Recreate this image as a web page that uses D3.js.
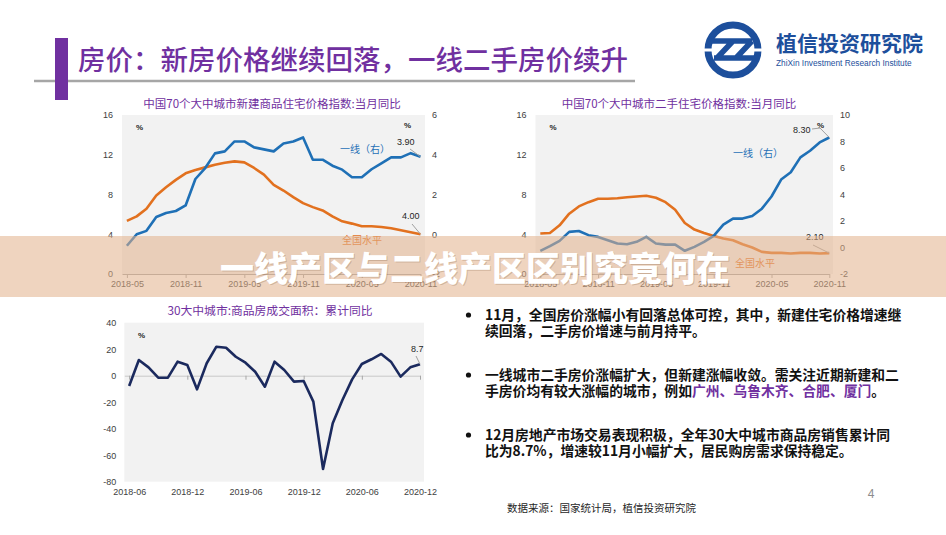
<!DOCTYPE html>
<html><head><meta charset="utf-8">
<script src="https://cdn.jsdelivr.net/npm/d3@7"></script>
<style>
body{margin:0;background:#fff;}
svg{display:block;}
</style></head><body>
<svg id="c" width="946" height="535"></svg>
<script>
// ---------- data ----------
const months1 = ["2018-05","2018-06","2018-07","2018-08","2018-09","2018-10","2018-11","2018-12",
  "2019-01","2019-02","2019-03","2019-04","2019-05","2019-06","2019-07","2019-08","2019-09","2019-10","2019-11","2019-12",
  "2020-01","2020-02","2020-03","2020-04","2020-05","2020-06","2020-07","2020-08","2020-09","2020-10","2020-11"];
const months3 = ["2018-06","2018-07","2018-08","2018-09","2018-10","2018-11","2018-12",
  "2019-01","2019-02","2019-03","2019-04","2019-05","2019-06","2019-07","2019-08","2019-09","2019-10","2019-11","2019-12",
  "2020-01","2020-02","2020-03","2020-04","2020-05","2020-06","2020-07","2020-08","2020-09","2020-10","2020-11","2020-12"];
const tickMonths1 = ["2018-05","2018-11","2019-05","2019-11","2020-05","2020-11"];
const tickMonths3 = ["2018-06","2018-12","2019-06","2019-12","2020-06","2020-12"];

// chart 1: new homes, YoY (%)
const newTier1 = [-0.58,0.0,0.17,0.87,1.07,1.17,1.45,2.78,3.33,4.07,4.17,4.67,4.67,4.37,4.27,4.17,4.57,4.67,4.87,3.75,3.75,3.45,3.25,2.87,2.87,3.27,3.57,3.87,3.87,4.08,3.90];
const newNational = [5.35,5.8,6.57,7.9,8.73,9.47,10.13,10.47,10.73,11.0,11.2,11.33,11.23,10.67,10.0,8.97,8.4,7.73,7.13,6.73,6.4,5.8,5.3,5.07,4.8,4.8,4.73,4.6,4.4,4.2,4.00];
// chart 2: second-hand homes, YoY (%)
const usedTier1 = [-0.25,0.1,0.5,1.18,1.25,0.93,0.8,0.55,0.3,0.25,0.43,0.8,0.3,0.22,0.22,-0.25,0.05,0.43,0.88,1.73,2.18,2.18,2.38,2.93,3.85,5.13,5.68,6.8,7.3,7.93,8.30];
const usedNational = [4.07,4.13,4.9,6.07,6.8,7.23,7.57,7.57,7.63,7.73,7.8,7.87,7.67,7.23,6.47,5.13,4.47,4.13,3.83,3.57,3.4,3.0,2.67,2.23,2.13,2.13,2.07,2.13,2.13,2.07,2.10];
// chart 3: 30 cities transaction area, cumulative YoY (%)
const salesArea = [-7.8,11.8,6.3,-1.5,-1.5,10.6,8.1,-10.3,9.4,21.9,21.1,14.3,9.8,3.0,-8.3,10.6,4.3,-4.5,-4.0,-19.6,-70.4,-35.9,-18.3,-2.8,8.8,12.4,16.4,10.6,-0.7,6.3,8.7];

const leftTicks12 = [0,4,8,12,16];
const rightTicks1 = [-2,0,2,4,6];
const rightTicks2 = [-2,0,2,4,6,8,10];
const leftTicks3 = [-80,-60,-40,-20,0,20,40];

// ---------- styles ----------
const CJK = "'Noto Sans CJK SC','Noto Sans',sans-serif";
const LAT = "'Liberation Sans',Arial,sans-serif";
const PURPLE = "#7030a0";
const BLUE = "#1f70b6";
const ORANGE = "#e2711f";
const NAVY = "#1b2a5e";
const LOGO = "#1d4f9c";
const fmt = d => String(d);

const svg = d3.select("#c");
svg.append("rect").attr("width",946).attr("height",535).attr("fill","#fff");

// ---------- header ----------
svg.append("line").attr("x1",34).attr("x2",635).attr("y1",81).attr("y2",81)
  .attr("stroke","#a6a6a6").attr("stroke-width",2.5);
svg.append("rect").attr("x",55).attr("y",38).attr("width",13).attr("height",62).attr("fill",PURPLE);
svg.append("text").attr("x",78).attr("y",70).attr("font-family",CJK).attr("font-weight",500)
  .attr("font-size",27.5).attr("fill",PURPLE).text("房价：新房价格继续回落，一线二手房价续升");

// logo
const lg = svg.append("g");
lg.append("circle").attr("cx",733).attr("cy",50).attr("r",25).attr("fill","none").attr("stroke",LOGO).attr("stroke-width",7);
lg.append("path").attr("d","M711,41 H752 M733,41 L717,58 M752,41 L736,58 M714,58 H757")
  .attr("stroke",LOGO).attr("stroke-width",5.5).attr("fill","none").attr("stroke-linecap","butt");
lg.append("path").attr("d","M703,50 H712 M754,50 H764").attr("stroke","#fff").attr("stroke-width",3);
lg.append("text").attr("x",776).attr("y",51).attr("font-family",CJK).attr("font-weight",700)
  .attr("font-size",21).attr("fill",LOGO).text("植信投资研究院");
lg.append("text").attr("x",776).attr("y",66).attr("font-family",LAT)
  .attr("font-size",8.3).attr("fill",LOGO).text("ZhiXin Investment Research Institute");

// ---------- helpers ----------
function styleAxis(g){
  g.selectAll("text").attr("font-family",LAT).attr("font-size",9).attr("fill","#404040");
  g.selectAll("line").attr("stroke","#a6a6a6");
  g.select(".domain").attr("stroke","#a6a6a6");
}
function txt(x,y,s,opt){
  const t = svg.append("text").attr("x",x).attr("y",y).text(s)
    .attr("font-family",opt.font||LAT).attr("font-size",opt.size||9).attr("fill",opt.fill||"#262626");
  if(opt.anchor) t.attr("text-anchor",opt.anchor);
  if(opt.weight) t.attr("font-weight",opt.weight);
  return t;
}
function leader(points){
  svg.append("path").attr("d",d3.line()(points)).attr("fill","none").attr("stroke","#a0a0a0").attr("stroke-width",1);
}

// ---------- dual axis chart ----------
function dualChart(cfg){
  const x = d3.scaleLinear().domain([-0.5, cfg.months.length-1]).range([cfg.left, cfg.right]);
  const yL = d3.scaleLinear().domain([0,16]).range([cfg.bottom, cfg.top]);
  const yR = d3.scaleLinear().domain(cfg.rDomain).range([cfg.bottom, cfg.top]);
  svg.append("rect").attr("x",cfg.left).attr("y",cfg.top).attr("width",cfg.bgRight-cfg.left)
    .attr("height",cfg.bottom-cfg.top).attr("fill","#f2f2f2");
  txt(cfg.titleX, 108, cfg.title, {font:CJK,size:11.5,fill:PURPLE,anchor:"middle"});
  svg.append("g").attr("transform",`translate(${cfg.left},0)`)
    .call(d3.axisLeft(yL).tickValues(leftTicks12).tickFormat(fmt).tickSize(0).tickPadding(9))
    .call(g=>g.select(".domain").remove()).call(styleAxis);
  svg.append("g").attr("transform",`translate(${cfg.bgRight},0)`)
    .call(d3.axisRight(yR).tickValues(cfg.rTicks).tickFormat(fmt).tickSize(0).tickPadding(7))
    .call(g=>g.select(".domain").remove()).call(styleAxis);
  const tickIdx = tickMonths1.map(m=>cfg.months.indexOf(m));
  svg.append("g").attr("transform",`translate(0,${cfg.bottom})`)
    .call(d3.axisBottom(x).tickValues(tickIdx).tickFormat(i=>cfg.months[i]).tickSize(4).tickSizeOuter(0))
    .call(styleAxis);
  const lineL = d3.line().x((d,i)=>x(i)).y(d=>yL(d));
  const lineR = d3.line().x((d,i)=>x(i)).y(d=>yR(d));
  svg.append("path").attr("d",lineL(cfg.national)).attr("fill","none").attr("stroke",ORANGE)
    .attr("stroke-width",2.6).attr("stroke-linejoin","round");
  svg.append("path").attr("d",lineR(cfg.tier1)).attr("fill","none").attr("stroke",BLUE)
    .attr("stroke-width",2.6).attr("stroke-linejoin","round");
  txt(cfg.left+14, 130, "%", {size:8,fill:"#262626",weight:700});
  txt(cfg.pctRX, 128, "%", {size:8,fill:"#262626",weight:700});
  const n = cfg.months.length-1;
  const bx = x(n), by = yR(cfg.tier1[n]);
  const ox = x(n), oy = yL(cfg.national[n]);
  return {x,yL,yR,bx,by,ox,oy};
}

// chart 1
const c1 = dualChart({months:months1, left:122, right:420.5, bgRight:425, top:115, bottom:274,
  rDomain:[-2,6], rTicks:rightTicks1, tier1:newTier1, national:newNational,
  title:"中国70个大中城市新建商品住宅价格指数:当月同比", titleX:272, pctRX:404});
txt(340,153,"一线（右）",{font:CJK,size:10,fill:BLUE});
txt(342,244,"全国水平",{font:CJK,size:10,fill:ORANGE});
txt(397,145,newTier1[newTier1.length-1].toFixed(2),{size:9});
leader([[410,149],[c1.bx,c1.by]]);
txt(402,219,newNational[newNational.length-1].toFixed(2),{size:9});
leader([[412,224],[c1.ox,c1.oy]]);

// chart 2
const c2 = dualChart({months:months1, left:535.5, right:829.3, bgRight:833, top:115, bottom:274,
  rDomain:[-2,10], rTicks:rightTicks2, tier1:usedTier1, national:usedNational,
  title:"中国70个大中城市二手住宅价格指数:当月同比", titleX:679, pctRX:817});
txt(733,157,"一线（右）",{font:CJK,size:10,fill:BLUE});
txt(735,267,"全国水平",{font:CJK,size:10,fill:ORANGE});
txt(793,133,usedTier1[usedTier1.length-1].toFixed(2),{size:9});
leader([[812,129],[820,128],[c2.bx,c2.by]]);
txt(806,240,usedNational[usedNational.length-1].toFixed(2),{size:9});
leader([[813,245],[c2.ox,c2.oy]]);

// chart 3
(function(){
  const left=124.3, right=420, bgRight=424, top=322.7, bottom=481.7;
  const x = d3.scaleLinear().domain([-0.5, months3.length-1]).range([left,right]);
  const y = d3.scaleLinear().domain([-80,40]).range([bottom,top]);
  svg.append("rect").attr("x",left).attr("y",top).attr("width",bgRight-left).attr("height",bottom-top).attr("fill","#f2f2f2");
  txt(270,315,"30大中城市:商品房成交面积：累计同比",{font:CJK,size:11.8,fill:PURPLE,anchor:"middle"});
  svg.append("g").attr("transform",`translate(${left},0)`)
    .call(d3.axisLeft(y).tickValues(leftTicks3).tickFormat(fmt).tickSize(0).tickPadding(8))
    .call(g=>g.select(".domain").remove()).call(styleAxis);
  const tickIdx = tickMonths3.map(m=>months3.indexOf(m));
  // zero axis with ticks
  svg.append("g").attr("transform",`translate(0,${y(0)})`)
    .call(d3.axisBottom(x).tickValues(tickIdx).tickFormat("").tickSize(4).tickSizeOuter(0))
    .call(styleAxis).call(g=>g.select(".domain").attr("stroke","#c8c8c8"));
  // labels at bottom
  svg.append("g").attr("transform",`translate(0,${bottom})`)
    .call(d3.axisBottom(x).tickValues(tickIdx).tickFormat(i=>months3[i]).tickSize(0).tickPadding(7))
    .call(g=>g.select(".domain").remove()).call(styleAxis);
  const line = d3.line().x((d,i)=>x(i)).y(d=>y(d));
  svg.append("path").attr("d",line(salesArea)).attr("fill","none").attr("stroke",NAVY)
    .attr("stroke-width",2.6).attr("stroke-linejoin","round");
  txt(138,338,"%",{size:8,weight:700});
  const n = salesArea.length-1;
  txt(411,352,salesArea[n].toFixed(1),{size:9});
  leader([[416,356],[x(n),y(salesArea[n])]]);
})();

// ---------- bullets ----------
const bullets = [
  {y:320, lines:[[["11月，全国房价涨幅小有回落总体可控，其中，新建住宅价格增速继","#111"]],[["续回落，二手房价增速与前月持平。","#111"]]]},
  {y:380, lines:[[["一线城市二手房价涨幅扩大，但新建涨幅收敛。需关注近期新建和二","#111"]],
                 [["手房价均有较大涨幅的城市，例如","#111"],["广州、乌鲁木齐、合肥、厦门","#7030a0"],["。","#111"]]]},
  {y:440, lines:[[["12月房地产市场交易表现积极，全年30大中城市商品房销售累计同","#111"]],[["比为8.7%，增速较11月小幅扩大，居民购房需求保持稳定。","#111"]]]}
];
bullets.forEach(b=>{
  svg.append("circle").attr("cx",468.5).attr("cy",b.y-5).attr("r",2.6).attr("fill","#111");
  b.lines.forEach((ln,li)=>{
    const t = svg.append("text").attr("x",485).attr("y",b.y+li*16).attr("font-family",CJK)
      .attr("font-weight",700).attr("font-size",13.8);
    ln.forEach(seg=>t.append("tspan").attr("fill",seg[1]).text(seg[0]));
  });
});
txt(871,498,"4",{font:LAT,size:12,fill:"#8c8c8c",anchor:"middle"});
txt(507,512,"数据来源：国家统计局，植信投资研究院",{font:CJK,size:10.5,fill:"#262626"});

// ---------- banner ----------
svg.append("rect").attr("x",0).attr("y",236).attr("width",946).attr("height",61)
  .attr("fill","rgb(226,176,138)").attr("fill-opacity",0.55);
svg.append("text").attr("x",475).attr("y",281).attr("text-anchor","middle").attr("font-family",CJK)
  .attr("font-weight",900).attr("font-size",34).attr("fill","rgba(120,80,50,0.25)").text("一线产区与二线产区区别究竟何在")
  .attr("transform","translate(1,1)");
svg.append("text").attr("x",475).attr("y",281).attr("text-anchor","middle").attr("font-family",CJK)
  .attr("font-weight",900).attr("font-size",34).attr("fill","#fff").text("一线产区与二线产区区别究竟何在");
</script>
</body></html>
